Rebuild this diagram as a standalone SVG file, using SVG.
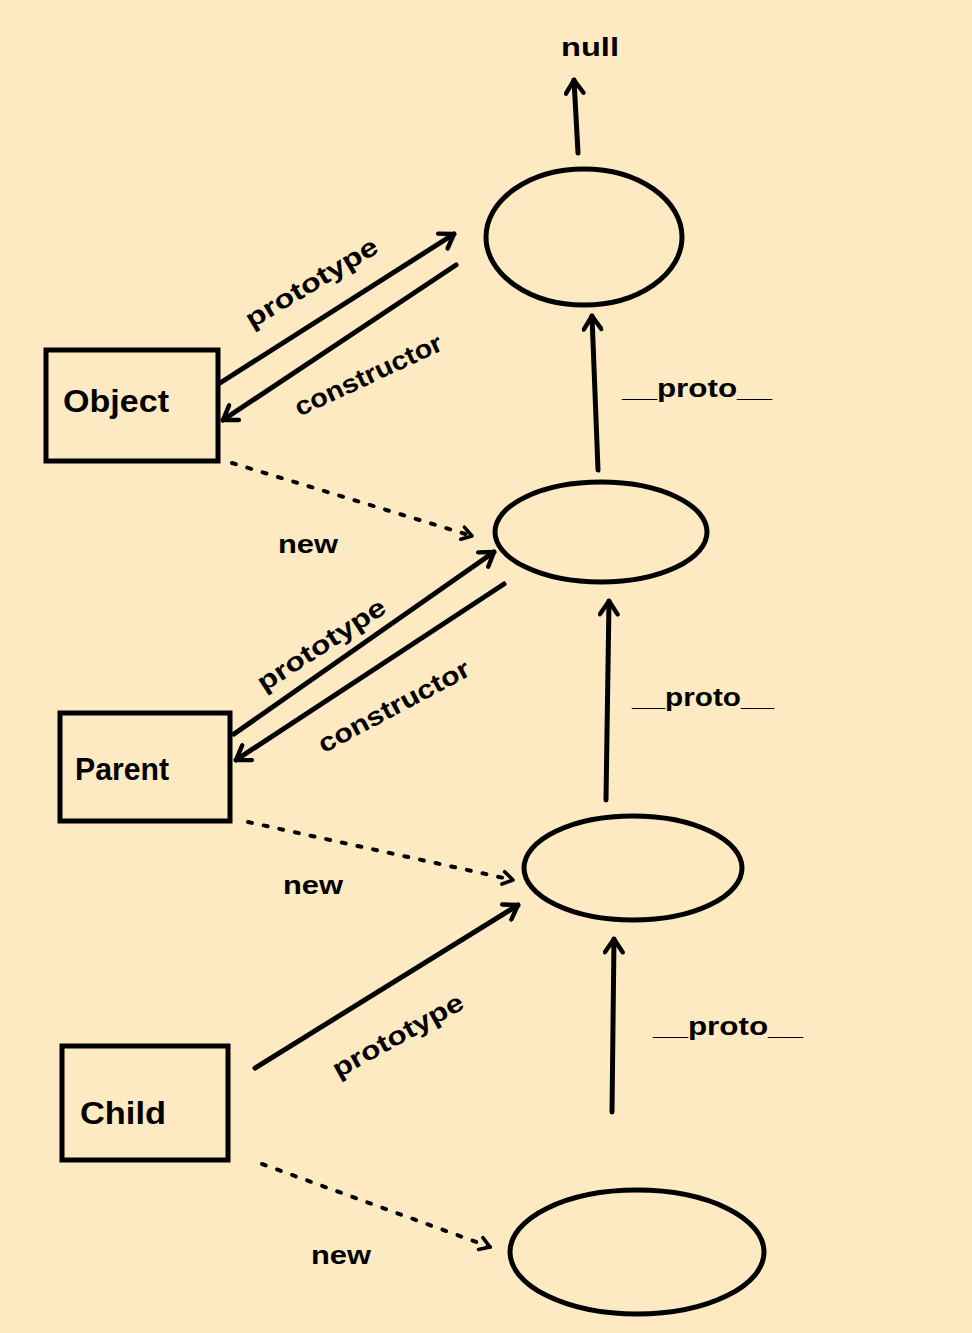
<svg xmlns="http://www.w3.org/2000/svg" width="972" height="1333" viewBox="0 0 972 1333">
<style>
.bg{fill:#FDEAC2}
.shape{fill:none;stroke:#000;stroke-width:5}
.line{fill:none;stroke:#000;stroke-width:5;stroke-linecap:round}
.dash{fill:none;stroke:#000;stroke-width:4;stroke-linecap:round;stroke-dasharray:4 12}
.t{font-family:"Liberation Sans",Arial,sans-serif;font-weight:bold;fill:#000}
.node{font-size:32px}
.lbl{font-size:26px}
</style>
<defs>
<marker id="ah" viewBox="0 0 20 20" refX="16" refY="10" markerWidth="22" markerHeight="22" markerUnits="userSpaceOnUse" orient="auto">
<path d="M4,2 L16,10 L4,18" fill="none" stroke="#000" stroke-width="4" stroke-linecap="round" stroke-linejoin="round"/>
</marker>
<marker id="ahs" viewBox="0 0 20 20" refX="16" refY="10" markerWidth="18" markerHeight="18" markerUnits="userSpaceOnUse" orient="auto">
<path d="M5,3 L16,10 L5,17" fill="none" stroke="#000" stroke-width="4" stroke-linecap="round" stroke-linejoin="round"/>
</marker>
</defs>
<rect class="bg" x="0" y="0" width="972" height="1333"/>

<g id="null-label"><text class="t lbl" x="590" y="56" text-anchor="middle" textLength="58" lengthAdjust="spacingAndGlyphs">null</text></g>

<g id="obj1"><ellipse class="shape" cx="584" cy="237" rx="98" ry="68"/></g>
<g id="obj2"><ellipse class="shape" cx="601" cy="532" rx="106" ry="50"/></g>
<g id="obj3"><ellipse class="shape" cx="633" cy="868" rx="109" ry="52"/></g>
<g id="obj4"><ellipse class="shape" cx="637" cy="1252" rx="127" ry="62"/></g>

<g id="Object"><rect class="shape" x="46" y="350" width="172" height="111"/><text class="t node" x="116" y="412" text-anchor="middle" textLength="106" lengthAdjust="spacingAndGlyphs">Object</text></g>
<g id="Parent"><rect class="shape" x="60" y="713" width="170" height="108"/><text class="t node" x="122" y="780" text-anchor="middle" textLength="94" lengthAdjust="spacingAndGlyphs">Parent</text></g>
<g id="Child"><rect class="shape" x="62" y="1046" width="166" height="114"/><text class="t node" x="123" y="1124" text-anchor="middle" textLength="86" lengthAdjust="spacingAndGlyphs">Child</text></g>

<g id="connectors">
<line class="line" x1="578" y1="153" x2="574" y2="80" marker-end="url(#ah)"/>
<line class="line" x1="598" y1="470" x2="592" y2="316" marker-end="url(#ah)"/>
<line class="line" x1="606" y1="800" x2="609" y2="601" marker-end="url(#ah)"/>
<line class="line" x1="612" y1="1112" x2="614" y2="939" marker-end="url(#ah)"/>

<line class="line" x1="220" y1="383" x2="454" y2="234" marker-end="url(#ah)"/>
<line class="line" x1="456" y1="265" x2="223" y2="420" marker-end="url(#ah)"/>
<line class="line" x1="234" y1="734" x2="494" y2="552" marker-end="url(#ah)"/>
<line class="line" x1="504" y1="584" x2="236" y2="760" marker-end="url(#ah)"/>
<line class="line" x1="255" y1="1068" x2="518" y2="905" marker-end="url(#ah)"/>

<line class="dash" x1="232" y1="463" x2="472" y2="536" marker-end="url(#ahs)"/>
<line class="dash" x1="248" y1="822" x2="513" y2="880" marker-end="url(#ahs)"/>
<line class="dash" x1="262" y1="1164" x2="490" y2="1247" marker-end="url(#ahs)"/>
</g>

<g id="labels">
<text class="t lbl" transform="translate(316,290) rotate(-31)" text-anchor="middle" textLength="150" lengthAdjust="spacingAndGlyphs">prototype</text>
<text class="t lbl" transform="translate(372,383) rotate(-25)" text-anchor="middle" textLength="160" lengthAdjust="spacingAndGlyphs">constructor</text>
<text class="t lbl" transform="translate(326,652) rotate(-33)" text-anchor="middle" textLength="148" lengthAdjust="spacingAndGlyphs">prototype</text>
<text class="t lbl" transform="translate(398,714) rotate(-28)" text-anchor="middle" textLength="168" lengthAdjust="spacingAndGlyphs">constructor</text>
<text class="t lbl" transform="translate(402,1043) rotate(-29)" text-anchor="middle" textLength="146" lengthAdjust="spacingAndGlyphs">prototype</text>

<text class="t lbl" x="697" y="397" text-anchor="middle" textLength="150" lengthAdjust="spacingAndGlyphs">__proto__</text>
<text class="t lbl" x="703" y="706" text-anchor="middle" textLength="142" lengthAdjust="spacingAndGlyphs">__proto__</text>
<text class="t lbl" x="728" y="1035" text-anchor="middle" textLength="150" lengthAdjust="spacingAndGlyphs">__proto__</text>

<text class="t lbl" x="308" y="553" text-anchor="middle" textLength="60" lengthAdjust="spacingAndGlyphs">new</text>
<text class="t lbl" x="313" y="894" text-anchor="middle" textLength="60" lengthAdjust="spacingAndGlyphs">new</text>
<text class="t lbl" x="341" y="1264" text-anchor="middle" textLength="60" lengthAdjust="spacingAndGlyphs">new</text>
</g>
</svg>
